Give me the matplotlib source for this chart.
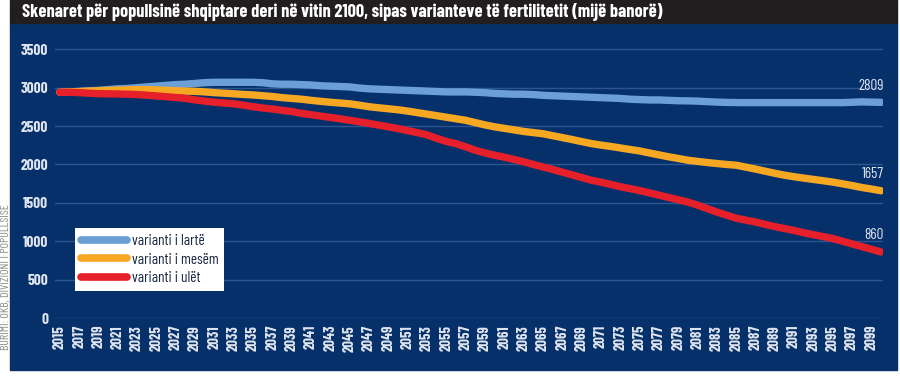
#!/usr/bin/env python

import matplotlib
matplotlib.use('Agg')
import matplotlib.pyplot as plt
from matplotlib.patches import Rectangle
from matplotlib.lines import Line2D

# data (thousand inhabitants)
years = list(range(2015, 2101))

high = [2940, 2945, 2950, 2960, 2965, 2975, 2985, 2990, 3000, 3010,
        3020, 3030, 3040, 3045, 3055, 3065, 3070, 3070, 3070, 3070,
        3070, 3065, 3050, 3045, 3045, 3040, 3035, 3025, 3020, 3015,
        3010, 2995, 2985, 2980, 2975, 2970, 2965, 2960, 2955, 2950,
        2945, 2945, 2945, 2940, 2935, 2925, 2920, 2915, 2915, 2910,
        2900, 2895, 2890, 2885, 2880, 2875, 2870, 2865, 2860, 2850,
        2845, 2840, 2840, 2835, 2830, 2828, 2825, 2818, 2812, 2808,
        2806, 2805, 2805, 2805, 2805, 2805, 2805, 2805, 2805, 2805,
        2805, 2805, 2810, 2815, 2812, 2809]

medium = [2940, 2945, 2950, 2955, 2960, 2965, 2968, 2972, 2975, 2975,
          2970, 2965, 2960, 2955, 2952, 2945, 2935, 2928, 2920, 2912,
          2905, 2895, 2885, 2870, 2860, 2850, 2835, 2822, 2810, 2800,
          2790, 2772, 2752, 2738, 2725, 2712, 2695, 2675, 2655, 2635,
          2615, 2595, 2575, 2545, 2515, 2490, 2470, 2450, 2430, 2415,
          2400, 2375, 2350, 2325, 2298, 2272, 2252, 2235, 2215, 2195,
          2176, 2150, 2125, 2100, 2078, 2055, 2040, 2025, 2012, 2000,
          1990, 1965, 1940, 1912, 1885, 1860, 1840, 1822, 1805, 1788,
          1770, 1748, 1725, 1700, 1680, 1657]

low = [2940, 2940, 2935, 2928, 2922, 2920, 2918, 2915, 2910, 2902,
       2892, 2882, 2872, 2860, 2840, 2825, 2810, 2800, 2790, 2772,
       2752, 2735, 2722, 2705, 2690, 2665, 2648, 2630, 2612, 2595,
       2575, 2555, 2535, 2512, 2490, 2467, 2440, 2415, 2385, 2340,
       2300, 2270, 2230, 2185, 2150, 2120, 2095, 2065, 2035, 2000,
       1967, 1935, 1900, 1865, 1830, 1795, 1770, 1740, 1710, 1685,
       1660, 1630, 1600, 1570, 1540, 1510, 1470, 1425, 1380, 1340,
       1300, 1275, 1250, 1220, 1190, 1165, 1140, 1110, 1085, 1060,
       1035, 1000, 965, 930, 895, 860]

names = ['varianti i lartë', 'varianti i mesëm', 'varianti i ulët']
colors = ['#6c9fd6', '#f7a823', '#e5202b']
yticks = [0, 500, 1000, 1500, 2000, 2500, 3000, 3500]
xticks = list(range(2015, 2100, 2))

TITLE = ("Skenaret për popullsinë shqiptare deri në vitin 2100, "
         "sipas varianteve të fertilitetit (mijë banorë)")
SOURCE = "BURIMI: OKB, DIVIZIONI I POPULLSISË"

NARROW = ['Barlow Condensed', 'DejaVu Sans']
PANEL = '#05306a'
LIGHT = '#dfe4ee'

W, H = 900, 378
fig = plt.figure(figsize=(9, 3.78), dpi=100)
fig.patch.set_facecolor('white')


def px_rect(x0, y0, x1, y1, color):
    # background block given in pixels from the top-left corner
    fig.patches.append(Rectangle((x0 / W, 1 - y1 / H), (x1 - x0) / W, (y1 - y0) / H,
                                 transform=fig.transFigure, color=color, zorder=-5))


px_rect(10, 23, 897, 370, PANEL)
px_rect(10, 0, 897, 23, '#221e1f')

fig.text(22 / W, 1 - 12 / H, TITLE, color='white', fontsize=13.2, fontweight='bold',
         family=NARROW, fontstretch='condensed', va='center', ha='left')
fig.text(5.5 / W, 1 - 277 / H, SOURCE, color='#8a8a8a', fontsize=8.5, family=NARROW,
         fontstretch='condensed', rotation=90, va='center', ha='center')

# axes: 2014.5 at x=55, 0 at y=318
ax = fig.add_axes([55 / W, (H - 318) / H, 828 / W, 276.4 / H])
ax.set_facecolor('none')
ax.set_xlim(2014.5, 2100.2)
ax.set_ylim(0, 3600)

for s in ax.spines.values():
    s.set_visible(False)
ax.set_yticks(yticks)
ax.set_xticks(xticks)
ax.set_xticklabels([str(y) for y in xticks], rotation=90, family=NARROW,
                   fontstretch='condensed', fontsize=10.5, fontweight='bold', color=LIGHT)
ax.set_yticklabels([str(v) for v in yticks], family=NARROW, fontstretch='condensed',
                   fontsize=11, fontweight='bold', color=LIGHT)
ax.tick_params(length=0, pad=5)
ax.grid(axis='y', color='#2c5690', linewidth=1.0)
ax.set_axisbelow(True)

series = [high, medium, low]
for i, (vals, name, c) in enumerate(zip(series, names, colors)):
    ax.plot(years, vals, color=c, linewidth=5.3, solid_capstyle='round',
            solid_joinstyle='round', zorder=3 + i, label=name)

# end labels
for vals in series:
    ax.annotate(str(vals[-1]), (years[-1], vals[-1]), xytext=(2, 7),
                textcoords='offset points', ha='right', va='bottom',
                color=LIGHT, fontsize=11, family=NARROW, fontstretch='condensed')

handles = [Line2D([], [], color=c, linewidth=5.5, solid_capstyle='round') for c in colors]
leg = ax.legend(handles, names, loc='upper left',
                bbox_to_anchor=(20 / 828, 1 - (228 - 41.6) / 276.4),
                borderaxespad=0, frameon=True, fancybox=False, framealpha=1,
                edgecolor='white', handlelength=3.0, handletextpad=0.3,
                labelspacing=0.3, borderpad=0.4,
                prop={'family': NARROW, 'size': 11, 'stretch': 'condensed'})
leg.get_frame().set_linewidth(0)
for t in leg.get_texts():
    t.set_color('#1b2a44')

fig.savefig('out.png', dpi=100, facecolor='white')
